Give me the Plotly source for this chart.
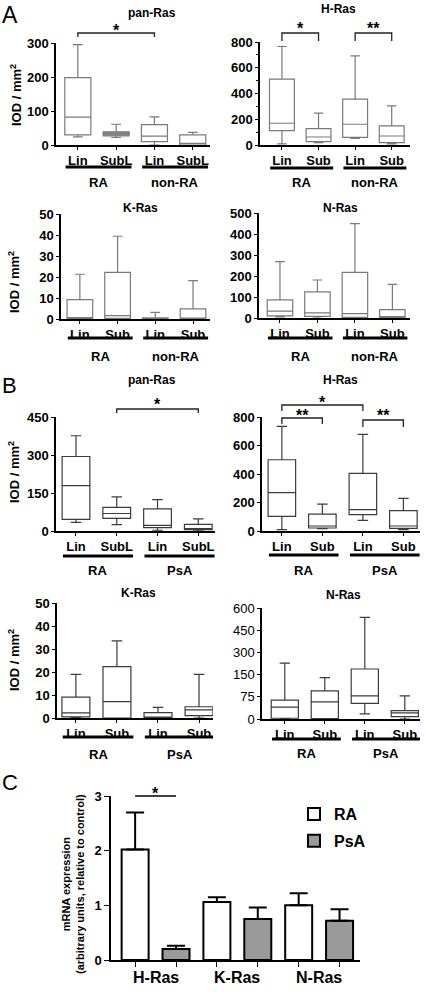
import plotly.graph_objects as go

W, H = 425, 992
FONT = "Liberation Sans, Arial, sans-serif"

# ---------------- DATA ----------------
sites_A_pan = ["Lin", "SubL", "Lin", "SubL"]
sites_sub = ["Lin", "Sub", "Lin", "Sub"]
groups_A = ["RA", "non-RA"]
groups_B = ["RA", "PsA"]

# Panel A pan-Ras (IOD/mm2)
a_pan_lo = [24, 22, 0, 0]
a_pan_q1 = [30, 27, 10, 0]
a_pan_med = [82, 33, 26, 5]
a_pan_q3 = [198, 39, 60, 30]
a_pan_hi = [295, 61, 83, 37]

# Panel A H-Ras
a_h_lo = [8, 18, 52, 8]
a_h_q1 = [112, 26, 60, 18]
a_h_med = [169, 62, 161, 70]
a_h_q3 = [512, 127, 356, 148]
a_h_hi = [765, 247, 693, 304]

# Panel A K-Ras
a_k_lo = [0, 0, 0, 0]
a_k_q1 = [0.2, 0.3, 0, 0]
a_k_med = [0.5, 1.6, 0.3, 0.2]
a_k_q3 = [9.2, 22.2, 0.5, 4.8]
a_k_hi = [21.3, 39.4, 3.2, 18.3]

# Panel A N-Ras
a_n_lo = [5, 0, 0, 0]
a_n_q1 = [10, 8, 3, 2]
a_n_med = [33, 24, 21, 5]
a_n_q3 = [86, 124, 217, 40]
a_n_hi = [268, 181, 449, 160]

# Panel B pan-Ras
b_pan_lo = [34, 25, 3, 0]
b_pan_q1 = [46, 50, 13, 5]
b_pan_med = [179, 69, 22, 9]
b_pan_q3 = [294, 93, 87, 26]
b_pan_hi = [376, 135, 124, 48]

# Panel B H-Ras
b_h_lo = [9, 16, 75, 9]
b_h_q1 = [103, 21, 115, 19]
b_h_med = [269, 35, 150, 35]
b_h_q3 = [500, 119, 405, 143]
b_h_hi = [734, 189, 678, 229]

# Panel B K-Ras
b_k_lo = [0, 0, 0, 0]
b_k_q1 = [0.5, 0, 0, 1]
b_k_med = [2.2, 7.1, 0.2, 3.5]
b_k_q3 = [9.1, 22.3, 2.3, 4.9]
b_k_hi = [19, 33.5, 4.6, 19]

# Panel B N-Ras (segmented axis: 0-150 stretched x2)
b_n_lo = [0, 0, 17, 0]
b_n_q1 = [2.5, 1, 53, 8]
b_n_med = [40, 58, 78, 21]
b_n_q3 = [64, 95, 188, 28]
b_n_hi = [228, 140, 537, 78]
b_n_ticks = [0, 75, 150, 300, 450, 600]

# Panel C mRNA expression
genes = ["H-Ras", "K-Ras", "N-Ras"]
ra_mean = [2.02, 1.06, 1.00]
ra_sem = [0.68, 0.09, 0.22]
psa_mean = [0.20, 0.75, 0.72]
psa_sem = [0.06, 0.21, 0.21]


# ---------------- HELPERS ----------------
def X(px):
    return px / W


def Y(py):
    return 1 - py / H


def B(t):
    return f"<b>{t}</b>"


def seg(v):
    # two-segment axis: 0..150 drawn at double scale
    return 2 * v if v <= 150 else 300 + (v - 150)


fig = go.Figure()
layout = {}
shapes = []
annotations = []

bold = dict(family=FONT, color="black")


def ann(text, x, y, xref="paper", yref="paper", size=13, angle=0, family=FONT,
        yanchor="middle"):
    annotations.append(dict(text=text, x=x, y=y, xref=xref, yref=yref,
                            xanchor="center", yanchor=yanchor, showarrow=False,
                            textangle=angle,
                            font=dict(family=family, size=size, color="black")))


def axname(n, a):
    return a if n == 1 else f"{a}{n}"


def box_panel(n, sites, stats, xdom, xr, ydom, yr, yaxis_extra, line_color,
              title, title_xy, groups, under_y, group_y, brackets,
              ylabel_xy=None, filled=None, tf=None):
    xa, ya = axname(n, "x"), axname(n, "y")
    lo, q1, med, q3, hi = stats
    if tf:
        lo, q1, med, q3, hi = [[tf(v) for v in s] for s in (lo, q1, med, q3, hi)]
    pos = list(range(len(sites)))
    filled = filled or [False] * len(sites)
    for fill_flag in (False, True):
        idx = [i for i in pos if filled[i] == fill_flag]
        if not idx:
            continue
        fig.add_trace(go.Box(
            x=[pos[i] for i in idx],
            lowerfence=[lo[i] for i in idx], q1=[q1[i] for i in idx],
            median=[med[i] for i in idx], q3=[q3[i] for i in idx],
            upperfence=[hi[i] for i in idx],
            xaxis=xa, yaxis=ya, width=0.68, whiskerwidth=0.38,
            line=dict(color=line_color, width=1.2),
            fillcolor="#8c8c8c" if fill_flag else "white",
            boxpoints=False, showlegend=False, hoverinfo="skip"))
    layout[axname(n, "xaxis")] = dict(
        domain=[X(xdom[0]), X(xdom[1])], range=xr, anchor=ya, automargin=False,
        showline=True, linecolor="black", linewidth=1.5,
        ticks="outside", ticklen=3, tickwidth=1.3, tickcolor="black",
        tickmode="array", tickvals=pos, ticktext=[B(s) for s in sites],
        tickfont=dict(size=13, **bold), showgrid=False, zeroline=False)
    yax = dict(
        domain=[Y(ydom[1]), Y(ydom[0])], range=yr, anchor=xa, automargin=False,
        showline=True, linecolor="black", linewidth=1.5,
        ticks="outside", ticklen=3, tickwidth=1.3, tickcolor="black",
        tickprefix="<b>", ticksuffix="</b>",
        tickfont=dict(size=13, **bold), showgrid=False, zeroline=False)
    yax.update(yaxis_extra)
    layout[axname(n, "yaxis")] = yax

    ann(B(title), X(title_xy[0]), Y(title_xy[1]), size=12)
    for gi, g in enumerate(groups):
        i0, i1 = 2 * gi, 2 * gi + 1
        x0, x1 = i0 - 0.32, i1 + 0.4
        shapes.append(dict(type="line", xref=xa, yref="paper", x0=x0, x1=x1,
                           y0=Y(under_y), y1=Y(under_y),
                           line=dict(color="black", width=3)))
        ann(B(g), (x0 + x1) / 2, Y(group_y), xref=xa, size=13)
    for (i0, i1, top, bot, star, star_y) in brackets:
        shapes.append(dict(type="path", xref=xa, yref="paper",
                           path=f"M {i0},{Y(bot)} L {i0},{Y(top)} L {i1},{Y(top)} L {i1},{Y(bot)}",
                           line=dict(color="#222", width=1.3)))
        ann(B(star), (i0 + i1) / 2, Y(star_y + 3), xref=xa, size=16)
    if ylabel_xy:
        ann(B("IOD / mm<sup>2</sup>"), X(ylabel_xy[0]), Y(ylabel_xy[1]), size=13, angle=-90)


A_COL = "#7a7a7a"
B_COL = "#3c3c3c"

# Panel A
box_panel(1, sites_A_pan, (a_pan_lo, a_pan_q1, a_pan_med, a_pan_q3, a_pan_hi),
          (56, 210), [-0.57, 3.45], (43, 145), [0, 300], dict(dtick=100, tick0=0),
          A_COL, "pan-Ras", (152, 13), groups_A, 167, 183,
          [(0, 2, 33, 37, "*", 27)], ylabel_xy=(16, 95),
          filled=[False, True, False, False])
box_panel(2, sites_sub, (a_h_lo, a_h_q1, a_h_med, a_h_q3, a_h_hi),
          (260, 410), [-0.6, 3.5], (42, 145), [0, 800],
          dict(dtick=200, tick0=0, minor=dict(dtick=100, ticks="outside", ticklen=2.5,
                                              tickcolor="black")),
          A_COL, "H-Ras", (338, 9), groups_A, 168, 183,
          [(0, 1, 33, 41, "*", 26), (2, 3, 33, 41, "**", 26)])
box_panel(3, sites_sub, (a_k_lo, a_k_q1, a_k_med, a_k_q3, a_k_hi),
          (61, 210), [-0.5, 3.45], (214, 319), [0, 50], dict(dtick=10, tick0=0),
          A_COL, "K-Ras", (140, 208), groups_A, 338, 356, [], ylabel_xy=(14, 282))
box_panel(4, sites_sub, (a_n_lo, a_n_q1, a_n_med, a_n_q3, a_n_hi),
          (259, 410), [-0.56, 3.47], (213, 318), [0, 500], dict(dtick=100, tick0=0),
          A_COL, "N-Ras", (340, 208), groups_A, 338, 356, [])

# Panel B
box_panel(5, sites_A_pan, (b_pan_lo, b_pan_q1, b_pan_med, b_pan_q3, b_pan_hi),
          (56, 215), [-0.49, 3.41], (417, 531), [0, 450], dict(dtick=150, tick0=0),
          B_COL, "pan-Ras", (152, 380), groups_B, 556, 570,
          [(1, 3, 409, 413, "*", 402)], ylabel_xy=(14, 472))
box_panel(6, sites_sub, (b_h_lo, b_h_q1, b_h_med, b_h_q3, b_h_hi),
          (262, 420), [-0.49, 3.41], (417, 531), [0, 800], dict(dtick=200, tick0=0),
          B_COL, "H-Ras", (340, 380), groups_B, 555, 570,
          [(0, 2, 405, 411, "*", 399), (0, 1, 418, 424, "**", 412),
           (2, 3, 420, 427, "**", 412)])
box_panel(7, sites_sub, (b_k_lo, b_k_q1, b_k_med, b_k_q3, b_k_hi),
          (57, 213), [-0.46, 3.34], (603, 718), [0, 50], dict(dtick=10, tick0=0),
          B_COL, "K-Ras", (138, 593), groups_B, 737, 754, [], ylabel_xy=(14, 660))
box_panel(8, sites_sub, (b_n_lo, b_n_q1, b_n_med, b_n_q3, b_n_hi),
          (262, 420), [-0.57, 3.38], (608, 719), [0, seg(600)],
          dict(tickmode="array", tickvals=[seg(t) for t in b_n_ticks],
               ticktext=[str(t) for t in b_n_ticks]),
          B_COL, "N-Ras", (343, 595), groups_B, 739, 753, [], tf=seg)

# Panel C
bar_pos_ra = [2 * i for i in range(len(genes))]
bar_pos_psa = [2 * i + 1 for i in range(len(genes))]
fig.add_trace(go.Bar(
    x=bar_pos_ra, y=ra_mean, width=0.66, name=B("RA"), legendgroup="ra",
    marker=dict(color="white", line=dict(color="black", width=2)),
    error_y=dict(type="data", symmetric=False, array=ra_sem,
                 arrayminus=[0] * len(genes), color="black", thickness=2, width=9),
    xaxis="x9", yaxis="y9", hoverinfo="skip"))
fig.add_trace(go.Bar(
    x=bar_pos_psa, y=psa_mean, width=0.66, name=B("PsA"), legendgroup="psa",
    marker=dict(color="#9a9a9a", line=dict(color="black", width=2)),
    error_y=dict(type="data", symmetric=False, array=psa_sem,
                 arrayminus=[0] * len(genes), color="black", thickness=2, width=9),
    xaxis="x9", yaxis="y9", hoverinfo="skip"))
layout["xaxis9"] = dict(
    domain=[X(111), X(360)], range=[-0.59, 5.5], anchor="y9", automargin=False,
    showline=True, linecolor="black", linewidth=1.5,
    ticks="outside", ticklen=5, tickwidth=1.3, tickcolor="black",
    tickmode="array", tickvals=bar_pos_ra + bar_pos_psa, showticklabels=False,
    showgrid=False, zeroline=False)
layout["yaxis9"] = dict(
    domain=[Y(960), Y(796)], range=[0, 3], anchor="x9", dtick=1, tick0=0,
    automargin=False,
    showline=True, linecolor="black", linewidth=1.5,
    ticks="outside", ticklen=5, tickwidth=1.3, tickcolor="black",
    tickprefix="<b>", ticksuffix="</b>",
    tickfont=dict(size=13, **bold), showgrid=False, zeroline=False)
for i, g in enumerate(genes):
    ann(B(g), 2 * i + 0.5, Y(977), xref="x9", size=16)
shapes.append(dict(type="line", xref="x9", yref="paper", x0=0, x1=1,
                   y0=Y(796), y1=Y(796), line=dict(color="black", width=1.3)))
ann(B("*"), 0.5, Y(793), xref="x9", size=16)
ann(B("mRNA expression<br>(arbitrary units, relative to control)"), X(73), Y(884),
    size=11, angle=-90)

# Panel letters
ann("A", X(10), Y(0), size=23, yanchor="top")
ann("B", X(9), Y(385), size=22)
ann("C", X(10), Y(782), size=22)

fig.update_layout(
    template="none",
    width=W, height=H, autosize=False,
    margin=dict(l=0, r=0, t=0, b=0, pad=0),
    paper_bgcolor="white", plot_bgcolor="white",
    font=dict(family=FONT, color="black"),
    showlegend=True,
    legend=dict(x=X(294), y=Y(797), xanchor="left", yanchor="top",
                font=dict(size=16, family=FONT, color="black"),
                bgcolor="rgba(0,0,0,0)", tracegroupgap=3, itemwidth=30),
    shapes=shapes, annotations=annotations,
    **layout)

fig.write_html("out.html", config={"displayModeBar": False},
               post_script="document.body.style.margin='0';document.body.style.padding='0';")
